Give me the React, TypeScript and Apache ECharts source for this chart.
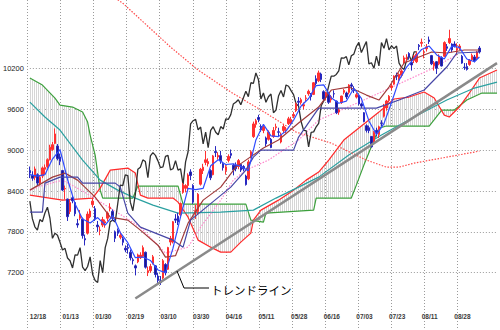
import React, { useEffect, useRef } from 'react';
import * as echarts from 'echarts';

const tickLabels = ['12/18','01/13','01/30','02/19','03/10','03/30','04/16','05/11','05/28','06/16','07/03','07/23','08/11','08/28'];
const yLabels = [7200, 7800, 8400, 9000, 9600, 10200];

// [open, close, low, high] daily, from 12/18
const candles = [
[8700,8667,8590,8760],[8630,8588,8550,8690],[8600,8724,8560,8760],[8640,8518,8470,8660],[8520,8600,8480,8630],
[8620,8740,8590,8760],[8720,8747,8640,8790],[8760,8860,8730,8880],[8860,9043,8850,9080],[9010,9081,8990,9120],
[9100,9239,9090,9320],[9060,8876,8850,9090],[8900,8837,8780,8950],[8700,8414,8400,8710],[8430,8438,8280,8480],
[8280,8023,7960,8290],[8100,8230,8060,8280],[8300,8257,8220,8340],[8230,8066,8030,8240],[7920,7902,7860,7990],
[8000,8052,7970,8120],[7990,7745,7700,8010],[7700,7682,7600,7760],[7780,8061,7760,8100],[8020,8106,8000,8140],
[8200,8251,8160,8300],[8140,7994,7960,8180],[7900,7874,7800,7960],[7820,7826,7750,7880],[7900,7981,7870,8020],
[7930,7950,7860,7980],[8000,8077,7960,8100],[8140,8162,8100,8220],[8100,8000,7960,8130],[7800,7705,7650,7820],
[7820,7779,7740,7850],[7720,7750,7690,7800],[7700,7646,7600,7730],[7560,7534,7500,7600],[7570,7558,7480,7620],
[7500,7416,7380,7540],[7390,7376,7320,7420],[7300,7269,7160,7320],[7360,7461,7340,7480],[7420,7458,7400,7500],
[7440,7568,7420,7600],[7500,7280,7260,7510],[7200,7230,7150,7290],[7230,7291,7200,7330],[7340,7433,7320,7460],
[7300,7173,7130,7310],[7150,7086,7050,7200],[7080,7055,7020,7150],[7120,7376,7100,7400],[7320,7198,7160,7340],
[7250,7569,7240,7580],[7650,7704,7600,7740],[7650,7949,7630,7960],[7990,7972,7930,8060],[8030,7946,7900,8080],
[8050,8216,8030,8230],[8380,8488,8360,8520],[8440,8480,8380,8500],[8480,8636,8420,8660],[8680,8627,8560,8720],
[8480,8236,8210,8500],[8100,8110,7990,8200],[8100,8352,8050,8370],[8500,8720,8480,8740],[8700,8750,8650,8800],
[8820,8858,8780,8990],[8800,8833,8760,8880],[8700,8595,8560,8720],[8640,8916,8630,8930],[8980,8964,8900,9060],
[8900,8924,8860,8970],[8920,8843,8800,8990],[8800,8743,8700,8830],[8700,8755,8640,8780],[8850,8908,8820,8940],
[8950,8925,8880,9010],[8780,8711,8630,8800],[8780,8727,8690,8820],[8760,8847,8720,8870],[8790,8708,8680,8800],
[8760,8726,8690,8780],[8620,8494,8480,8640],[8580,8828,8560,8860],[8900,8977,8880,9000],[9200,9386,9180,9420],
[9380,9433,9330,9460],[9480,9452,9410,9520],[9350,9299,9270,9380],[9290,9340,9250,9380],[9180,9094,9050,9200],
[9160,9265,9140,9290],[9160,9039,9030,9180],[9200,9290,9180,9340],[9330,9345,9290,9390],[9270,9264,9200,9330],
[9120,9226,9100,9260],[9290,9347,9250,9380],[9310,9311,9250,9340],[9390,9461,9370,9490],[9390,9451,9370,9490],
[9500,9523,9470,9560],[9580,9678,9560,9700],[9720,9704,9650,9780],[9700,9742,9670,9770],[9650,9669,9600,9700],
[9760,9768,9720,9810],[9830,9865,9800,9890],[9820,9787,9730,9840],[9820,9991,9810,10000],[10050,9981,9950,10100],
[10020,10136,10000,10170],[10120,10040,10000,10140],[9860,9753,9720,9880],[9780,9841,9730,9860],[9830,9704,9680,9850],
[9740,9786,9700,9810],[9830,9826,9770,9880],[9720,9550,9530,9730],[9560,9590,9520,9620],[9700,9796,9680,9800],
[9850,9877,9820,9900],[9840,9783,9750,9860],[9850,9958,9820,9970],[9960,9940,9880,9990],[9900,9876,9840,9940],
[9780,9816,9760,9840],[9800,9681,9660,9810],[9680,9648,9620,9700],[9550,9421,9410,9560],[9360,9291,9260,9380],
[9330,9287,9250,9360],[9200,9050,9040,9210],[9120,9262,9100,9280],[9290,9269,9200,9330],[9230,9344,9180,9360],
[9400,9395,9350,9440],[9500,9652,9480,9680],[9620,9723,9580,9740],[9730,9793,9700,9810],[9920,9945,9880,9980],
[9970,10089,9960,10100],[10100,10087,10030,10140],[10030,10113,9990,10130],[10100,10165,10070,10190],[10280,10357,10270,10390],
[10350,10352,10300,10410],[10420,10375,10330,10440],[10290,10253,10170,10330],[10320,10388,10280,10400],[10300,10412,10280,10450],
[10540,10524,10470,10560],[10570,10585,10520,10640],[10430,10435,10350,10480],[10490,10518,10450,10560],[10620,10597,10560,10670],
[10390,10269,10250,10400],[10240,10285,10170,10310],[10300,10204,10120,10310],[10270,10383,10250,10410],[10360,10238,10230,10380],
[10380,10581,10370,10600],[10520,10497,10460,10560],[10580,10640,10560,10770],[10560,10474,10440,10570],[10560,10534,10510,10600],
[10470,10493,10400,10570],[10500,10530,10470,10560],[10380,10280,10270,10400],[10220,10215,10180,10280],[10230,10187,10170,10280],
[10260,10321,10240,10340],[10330,10393,10310,10420],[10370,10312,10290,10400],[10350,10444,10320,10460],[10500,10444,10420,10530]
];

// lagging span (black), starting at bar 0
const laggingSpan = [8251,7994,7874,7826,7981,7950,8077,8162,8000,7705,7779,7750,7646,7534,7558,7416,7376,7269,7461,7458,7568,
7280,7230,7291,7433,7173,7086,7055,7376,7198,7569,7704,7949,7972,7946,8216,8488,8480,8636,8627,8236,8110,8352,8720,8750,8858,
8833,8595,8916,8964,8924,8843,8743,8755,8908,8925,8711,8727,8847,8708,8726,8494,8828,8977,9386,9433,9452,9299,9340,9094,9265,
9039,9290,9345,9264,9226,9347,9311,9461,9451,9523,9678,9704,9742,9669,9768,9866,9787,9991,9981,10136,10040,9753,9841,9704,
9786,9826,9550,9590,9796,9877,9783,9958,9940,9876,9816,9681,9648,9421,9291,9287,9050,9262,9269,9344,9395,9652,9723,9793,
9945,10089,10087,10113,10165,10357,10352,10375,10253,10388,10412,10524,10585,10435,10518,10597,10269,10285,10204,10383,
10238,10581,10497,10640,10474,10534,10493,10530,10280,10215,10187,10321,10393,10312,10444,10444];

const spanB = [[0,10060],[5,9957],[10,9766],[12,9663],[17,9634],[21,9560],[23,9413],[24,9222],[26,8928],[28,8413],[29,8296],[41,8296],[43,8472],[59,8472],[61,8207],[86,8207],[88,7972],[93,7943],[94,8075],[113,8119],[114,8296],[128,8296],[130,8487],[133,8781],[139,9325],[142,9355],[159,9355],[164,9590],[169,9590],[174,9737],[180,9840],[186,9840]];
const spanA = [[0,8340],[13,8266],[25,8296],[28,8443],[32,8707],[39,8737],[42,8663],[44,8340],[47,8296],[57,8296],[59,8237],[63,8016],[67,7678],[72,7575],[76,7502],[80,7502],[84,7649],[88,7781],[89,7972],[92,8119],[99,8266],[105,8413],[110,8560],[115,8678],[119,8854],[125,9149],[131,9325],[139,9560],[145,9752],[151,9781],[157,9855],[161,9766],[165,9516],[167,9487],[171,9634],[175,9840],[179,10060],[186,10178]];
const tealLine = [[0,9707],[6,9487],[12,9296],[15,9149],[21,8854],[28,8560],[35,8413],[41,8310],[49,8193],[59,8075],[76,8090],[89,8119],[98,8296],[107,8457],[115,8604],[127,8928],[140,9222],[153,9487],[166,9737],[177,9913],[186,10001]];
const redDotted = [[33,11260],[37,11160],[56,10516],[67,10178],[80,9855],[94,9545],[106,9266],[120,9104],[134,8854],[142,8751],[147,8751],[153,8810],[166,8898],[179,8986]];
const pinkDotted = [[0,8413],[5,8480],[13,8560],[21,8400],[32,8150],[44,7869],[51,7600],[54,7487],[63,7575],[68,7869],[76,8266],[81,8560],[86,8707],[95,8854],[107,9149],[115,9443],[133,9737],[159,10178],[170,10400]];
const brownLine = [[0,8413],[9,8604],[14,8663],[19,8560],[26,8310],[32,8016],[39,7972],[44,7825],[51,7604],[54,7428],[58,7450],[63,7928],[69,8266],[76,8457],[82,8751],[86,8854],[93,9031],[99,9149],[107,9399],[115,9634],[120,9884],[127,9928],[134,9810],[139,9737],[143,9928],[149,10281],[160,10443],[166,10428],[173,10472],[179,10472]];
const navyLine = [[0,8090],[5,8090],[6,8516],[12,8604],[19,8604],[21,8516],[34,8516],[36,8457],[39,8075],[44,7869],[57,7678],[61,7575],[64,7972],[80,8457],[86,8707],[89,8898],[92,9001],[105,9001],[107,9193],[115,9619],[138,9619],[147,9737],[157,9884],[166,10222],[170,10428],[179,10443]];
const blueLine = [[0,8640],[3,8620],[6,8640],[9,8870],[12,9010],[15,8570],[18,8210],[21,7990],[24,7930],[27,8010],[30,7900],[33,8040],[36,7790],[39,7640],[42,7420],[45,7430],[48,7380],[51,7240],[54,7200],[57,7560],[60,8020],[63,8440],[66,8420],[69,8440],[72,8770],[75,8860],[78,8790],[81,8800],[84,8760],[87,8700],[90,9150],[93,9380],[96,9210],[99,9200],[102,9280],[105,9440],[108,9650],[111,9760],[114,9950],[117,9960],[120,9770],[123,9690],[126,9720],[129,9910],[132,9760],[135,9430],[138,9230],[141,9390],[144,9700],[147,10030],[150,10220],[153,10350],[156,10480],[159,10530],[162,10400],[165,10340],[168,10530],[171,10510],[174,10340],[177,10300],[179,10370]];
const trendLine = [[42,6820],[186,10280]];

const N = 187;

export default function App() {
  const ref = useRef<HTMLDivElement>(null);
  useEffect(() => {
    document.body.style.margin = '0';
    const chart = echarts.init(ref.current!, null, { renderer: 'svg' });
    const cats = Array.from({ length: N }, (_, i) => String(i));
    const hatchSvg = "data:image/svg+xml;utf8," + encodeURIComponent("<svg xmlns='http://www.w3.org/2000/svg' width='2' height='2'><rect x='0' y='0' width='1' height='2' fill='#d6d6d6'/></svg>");
    const line = (data: number[][], color: string, extra: any = {}) => ({
      type: 'line', data, symbol: 'none', showSymbol: false, clip: false, silent: true,
      lineStyle: { color, width: 1.2, ...(extra.lineStyle || {}) }, z: extra.z ?? 3,
    });
    const option: any = {
      animation: false,
      backgroundColor: '#ffffff',
      grid: [
        { left: 27.7, right: 0, top: 27.7, bottom: 16.5 },
        { left: 27.7, right: 0, top: 0, bottom: 0 },
      ],
      xAxis: [
        {
          type: 'category', gridIndex: 0, data: cats, boundaryGap: false,
          axisLine: { show: false }, axisTick: { show: false }, splitLine: { show: false },
          axisLabel: {
            interval: 0, margin: -1, align: 'left', fontSize: 6.5, color: '#3a3a3a',
            fontFamily: 'Liberation Sans', fontWeight: 'bold',
            formatter: (v: string, i: number) => (i % 13 === 0 && tickLabels[i / 13]) ? tickLabels[i / 13] : '',
          },
        },
        {
          type: 'category', gridIndex: 1, data: cats, boundaryGap: false,
          axisLine: { show: false }, axisTick: { show: false }, axisLabel: { show: false },
          splitLine: { show: true, interval: (i: number) => i % 13 === 0 && i <= 169, lineStyle: { color: '#9a9a9a', type: [1, 2], width: 1 } },
        },
      ],
      yAxis: [
        {
          type: 'value', gridIndex: 0, min: 6600, max: 10800, interval: 600,
          axisLine: { show: false }, axisTick: { show: false },
          axisLabel: {
            margin: 6, fontSize: 7.5, color: '#222', fontFamily: 'Liberation Sans',
            formatter: (v: number) => yLabels.includes(v) ? String(v) : '',
          },
          splitLine: { show: true, showMinLine: false, showMaxLine: false, lineStyle: { color: '#9a9a9a', type: [1, 2], width: 1 } },
        },
        { type: 'value', gridIndex: 1, show: false, min: 0, max: 1 },
      ],
      series: [
        {
          type: 'custom', xAxisIndex: 0, yAxisIndex: 0, data: [[0, 8000]], silent: true, z: 1, clip: false,
          renderItem: (params: any, api: any) => {
            const pts = spanA.map(p => api.coord(p)).concat(spanB.slice().reverse().map(p => api.coord(p)));
            return {
              type: 'polygon', shape: { points: pts },
              style: { fill: { image: hatchSvg, repeat: 'repeat', imageWidth: 2, imageHeight: 2 }, stroke: 'none' },
            };
          },
        },
        line(spanB, '#3ca03c'),
        line(spanA, '#ff2a2a'),
        line(tealLine, '#2aa0a0'),
        line(redDotted, '#ff4a4a', { lineStyle: { type: [1.5, 1.5] } }),
        line(pinkDotted, '#ff88cc', { lineStyle: { type: [1.5, 1.5] } }),
        line(laggingSpan.map((v, i) => [i, v]), '#303030', { lineStyle: { width: 1.3 } }),
        {
          type: 'candlestick', data: candles, barWidth: 2, z: 4, silent: true,
          itemStyle: { color: '#ff3030', color0: '#1c1c86', borderColor: '#ff3030', borderColor0: '#2828c0', borderWidth: 1 },
        },
        line(brownLine, '#a03a3a', { z: 5 }),
        line(navyLine, '#4646a6', { z: 5 }),
        line(blueLine, '#2f4cff', { z: 5 }),
        line(trendLine, '#8a8a8a', { lineStyle: { width: 2.5 }, z: 6 }),
      ],
      graphic: [
        { type: 'polyline', shape: { points: [[177, 271], [184, 288], [209, 288]] }, style: { stroke: '#000', lineWidth: 1, fill: 'none' }, z: 10 },
        { type: 'text', x: 211, y: 290, style: { text: 'トレンドライン', fontSize: 11.5, fontFamily: 'Noto Sans CJK JP', fill: '#000', verticalAlign: 'middle' }, z: 10 },
      ],
    };
    chart.setOption(option);
    return () => chart.dispose();
  }, []);
  return <div ref={ref} style={{ width: 500, height: 330, background: '#fff' }} />;
}
